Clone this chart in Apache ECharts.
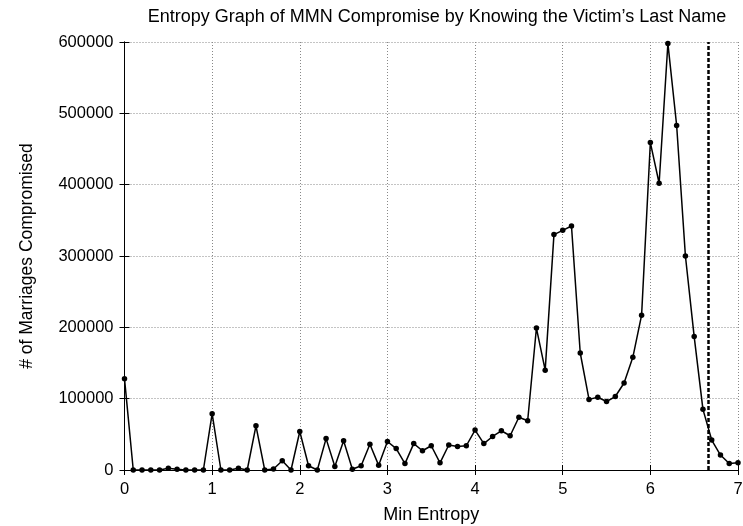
<!DOCTYPE html>
<html><head><meta charset="utf-8">
<script src="https://cdn.jsdelivr.net/npm/echarts@6/dist/echarts.min.js"></script>
<style>html,body{margin:0;padding:0;background:#fff}#c{width:743px;height:526px}</style>
</head><body><div id="c"></div>
<script>
const titleText = "Entropy Graph of MMN Compromise by Knowing the Victim\u2019s Last Name";
const xName = "Min Entropy";
const yName = "# of Marriages Compromised";
const minEntropy = [0.0,0.1,0.2,0.3,0.4,0.5,0.6,0.7,0.8,0.9,
  1.0,1.1,1.2,1.3,1.4,1.5,1.6,1.7,1.8,1.9,
  2.0,2.1,2.2,2.3,2.4,2.5,2.6,2.7,2.8,2.9,
  3.0,3.1,3.2,3.3,3.4,3.5,3.6,3.7,3.8,3.9,
  4.0,4.1,4.2,4.3,4.4,4.5,4.6,4.7,4.8,4.9,
  5.0,5.1,5.2,5.3,5.4,5.5,5.6,5.7,5.8,5.9,
  6.0,6.1,6.2,6.3,6.4,6.5,6.6,6.7,6.8,6.9,7.0];
const marriages = [128000,0,0,0,0,2500,1000,0,0,0,
  79000,0,0,2500,0,62000,0,1500,13000,0,
  54000,6000,0,44000,5000,41000,1000,6000,36000,6500,
  40000,30000,9000,37000,27000,34000,10000,35000,33000,34000,
  56000,37000,47000,55000,48000,74000,69000,199000,140000,330000,
  336000,342000,164000,99000,102000,96000,103000,122000,158000,217000,
  459000,402000,598000,483000,300000,187000,85000,42000,21000,9000,10000];
const cutoff = 6.66;
const xTicks = [0,1,2,3,4,5,6,7];
const yTicks = [0,100000,200000,300000,400000,500000,600000];

const font = "'Liberation Sans', Arial, sans-serif";
const chart = echarts.init(document.getElementById('c'), null, {renderer:'canvas'});
const baseAxis = {
  axisLine:{show:true, lineStyle:{color:'#000', width:1}},
  axisTick:{show:true, inside:true, length:5, lineStyle:{color:'#000', width:1}},
  splitLine:{show:false}
};
chart.setOption({
  animation:false,
  backgroundColor:'#fff',
  title:{text:titleText, left:432, textAlign:'center', top:3, textStyle:{fontFamily:font, fontSize:18, fontWeight:'normal', color:'#000'}},
  grid:{left:124.5, right:5, top:42, bottom:56, show:false, containLabel:false, outerBoundsMode:'none'},
  xAxis:[
    Object.assign({}, baseAxis, {type:'value', min:xTicks[0], max:xTicks[xTicks.length-1], interval:1, position:'bottom',
      name:xName, nameLocation:'middle', nameGap:36, nameTextStyle:{fontFamily:font, fontSize:18, color:'#000'},
      axisLabel:{fontFamily:font, fontSize:16.5, color:'#000', margin:11, formatter:v=>String(v)},
      splitLine:{show:true, lineStyle:{color:'#888', type:[1,2], width:1}}}),
    Object.assign({}, baseAxis, {type:'value', min:xTicks[0], max:xTicks[xTicks.length-1], interval:1, position:'top', axisLabel:{show:false}})
  ],
  yAxis:[
    Object.assign({}, baseAxis, {type:'value', min:yTicks[0], max:yTicks[yTicks.length-1], interval:100000, position:'left',
      name:yName, nameLocation:'middle', nameGap:88, nameRotate:90, nameTextStyle:{fontFamily:font, fontSize:17.5, color:'#000'},
      axisLabel:{fontFamily:font, fontSize:16.5, color:'#000', margin:11, formatter:v=>String(v)},
      splitLine:{show:true, lineStyle:{color:'#888', type:[1,2], width:1}}}),
    Object.assign({}, baseAxis, {type:'value', min:yTicks[0], max:yTicks[yTicks.length-1], interval:100000, position:'right', axisLabel:{show:false}})
  ],
  series:[{
    type:'line',
    data:minEntropy.map((x,i)=>[x, marriages[i]]),
    symbol:'circle', symbolSize:5.5,
    itemStyle:{color:'#000'},
    lineStyle:{color:'#000', width:1.5},
    clip:false,
    markLine:{
      silent:true, symbol:['none','none'], label:{show:false},
      lineStyle:{color:'#000', type:[4,2], width:2.5},
      data:[{xAxis:cutoff}]
    }
  }]
});
</script></body></html>
